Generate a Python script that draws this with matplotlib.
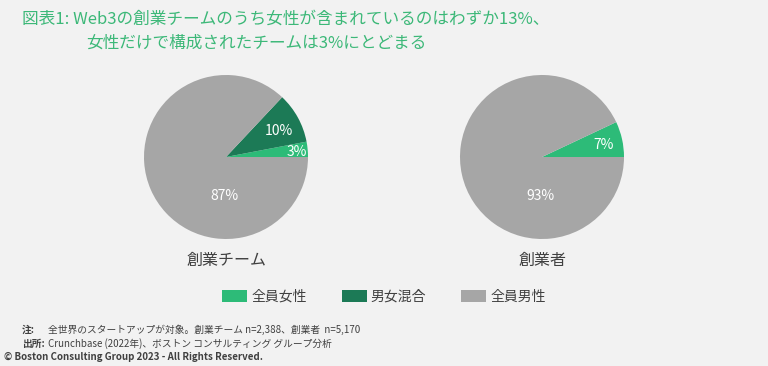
import matplotlib.pyplot as plt
from matplotlib.patches import Patch
import numpy as np

plt.rcParams['font.family'] = ['Noto Sans CJK JP', 'DejaVu Sans']

# data
categories = ['全員女性', '男女混合', '全員男性']
teams = [3, 10, 87]
founders = [7, 0, 93]
pie_titles = ['創業チーム', '創業者']

colors = ['#2dbb78', '#1c7a56', '#a6a6a6']
bg = '#f2f2f2'

fig = plt.figure(figsize=(7.68, 3.66), dpi=100, facecolor=bg)
W, H = 768, 366

def pie_axes(cx, cy, r):
    return fig.add_axes([(cx - r) / W, (H - cy - r) / H, 2 * r / W, 2 * r / H])

# label placement (angle deg, radius fraction) per slice
label_pos = [
    [(4, 0.87), (26.6, 0.72), (268, 0.48)],
    [(11, 0.76), None, (268, 0.48)],
]

for i, (vals, cx) in enumerate([(teams, 226), (founders, 542)]):
    ax = pie_axes(cx, 157, 82)
    ax.set_facecolor(bg)
    ax.pie(vals, colors=colors, startangle=0, counterclock=True, radius=1,
           wedgeprops=dict(linewidth=0))
    ax.set_xlim(-1, 1)
    ax.set_ylim(-1, 1)
    ax.set_aspect('equal')
    ax.axis('off')
    for v, pos in zip(vals, label_pos[i]):
        if pos is None or v == 0:
            continue
        a, r = pos
        ax.text(r * np.cos(np.radians(a)), r * np.sin(np.radians(a)), f'{v}%',
                color='white', fontsize=10, ha='center', va='center')
    fig.text(cx / W, 1 - 260 / H, pie_titles[i], fontsize=11.5, color='#404040',
             ha='center', va='center')

# title
tc = '#3cb878'
fig.text(22 / W, 1 - 19 / H, '図表1: Web3の創業チームのうち女性が含まれているのはわずか13%、',
         fontsize=12, color=tc, ha='left', va='center')
fig.text(86 / W, 1 - 43 / H, '女性だけで構成されたチームは3%にとどまる',
         fontsize=12, color=tc, ha='left', va='center')

# legend
handles = [Patch(facecolor=c, edgecolor='none') for c in colors]
fig.legend(handles, categories, loc='center', bbox_to_anchor=(384 / W, 1 - 297 / H),
           ncol=3, frameon=False, fontsize=10, handlelength=1.8, handleheight=0.9,
           handletextpad=0.3, columnspacing=2.5, labelcolor='#404040')

# footnotes
fc = '#404040'
fig.text(22 / W, 1 - 330 / H, '注:', fontsize=7, fontweight='bold', color=fc, va='center')
fig.text(48 / W, 1 - 330 / H, '全世界のスタートアップが対象。創業チーム n=2,388、創業者  n=5,170',
         fontsize=7, color=fc, va='center')
fig.text(22 / W, 1 - 344 / H, '出所:', fontsize=7, fontweight='bold', color=fc, va='center')
fig.text(48 / W, 1 - 344 / H, 'Crunchbase (2022年)、ボストン コンサルティング グループ分析',
         fontsize=7, color=fc, va='center')
fig.text(4 / W, 1 - 357 / H, '© Boston Consulting Group 2023 - All Rights Reserved.',
         fontsize=7, fontweight='bold', color=fc, va='center')

fig.savefig('out.png', dpi=100, facecolor=bg)
